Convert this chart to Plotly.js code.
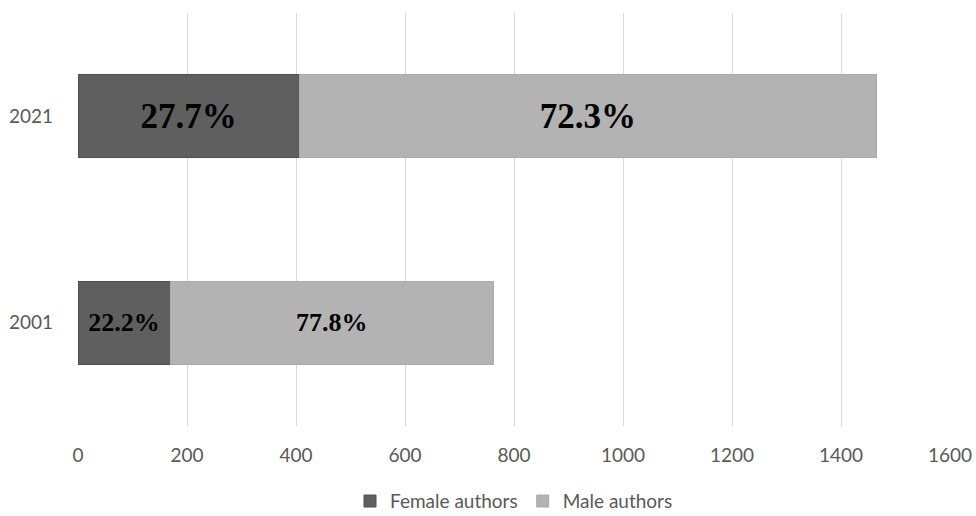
<!DOCTYPE html>
<html>
<head>
<meta charset="utf-8">
<script src="https://cdn.plot.ly/plotly-3.0.1.min.js"></script>
<style>
  html, body { margin: 0; padding: 0; background: #ffffff; }
  #chart { width: 976px; height: 516px; }
</style>
</head>
<body>
<div id="chart"></div>
<script>
// Number of authors by year, split by gender
const years = ['2001', '2021'];
const femaleAuthors = [169, 406];
const maleAuthors = [593, 1059];
const xTicks = [0, 200, 400, 600, 800, 1000, 1200, 1400, 1600];

// Share of each group within a year, shown inside the bar segments
const totals = years.map((_, i) => femaleAuthors[i] + maleAuthors[i]);
const pct = (arr) => arr.map((v, i) => (100 * v / totals[i]).toFixed(1) + '%');

const labelFont = {
  family: '"Liberation Serif", "Times New Roman", serif',
  color: '#000000',
  size: [26, 35],
  weight: 'bold'
};

const traces = [
  {
    type: 'bar',
    orientation: 'h',
    name: 'Female authors',
    y: years,
    x: femaleAuthors,
    text: pct(femaleAuthors),
    textposition: 'inside',
    insidetextanchor: 'middle',
    textangle: 0,
    constraintext: 'none',
    textfont: labelFont,
    marker: { color: '#5f5f5f', line: { color: '#505050', width: 1 } },
    hoverinfo: 'skip'
  },
  {
    type: 'bar',
    orientation: 'h',
    name: 'Male authors',
    y: years,
    x: maleAuthors,
    text: pct(maleAuthors),
    textposition: 'inside',
    insidetextanchor: 'middle',
    textangle: 0,
    constraintext: 'none',
    textfont: labelFont,
    marker: { color: '#b3b3b3', line: { color: '#aaaaaa', width: 1 } },
    hoverinfo: 'skip'
  }
];

const axisFont = { family: 'Lato, "Liberation Sans", sans-serif', size: 19, color: '#595959' };

const layout = {
  width: 976,
  height: 516,
  barmode: 'stack',
  bargap: 0.6,
  paper_bgcolor: '#ffffff',
  plot_bgcolor: '#ffffff',
  margin: { l: 78, r: 26, t: 13, b: 90, autoexpand: false },
  showlegend: true,
  legend: {
    orientation: 'h',
    x: 0.5,
    xanchor: 'center',
    y: -0.182,
    yanchor: 'middle',
    font: { family: 'Lato, "Liberation Sans", sans-serif', size: 19, color: '#595959' },
    traceorder: 'normal',
    itemwidth: 30,
    borderwidth: 0
  },
  xaxis: {
    range: [0, 1600],
    tickvals: xTicks,
    ticktext: xTicks.map(String),
    showgrid: true,
    gridcolor: '#d9d9d9',
    gridwidth: 1,
    zeroline: false,
    showline: false,
    ticks: '',
    ticklabelstandoff: 16,
    tickfont: axisFont,
    fixedrange: true
  },
  yaxis: {
    type: 'category',
    categoryorder: 'array',
    categoryarray: years,
    showgrid: false,
    zeroline: false,
    showline: false,
    ticks: '',
    ticklabelstandoff: 24,
    tickfont: axisFont,
    fixedrange: true
  }
};

Plotly.newPlot('chart', traces, layout, { displayModeBar: false, staticPlot: true });
</script>
</body>
</html>
